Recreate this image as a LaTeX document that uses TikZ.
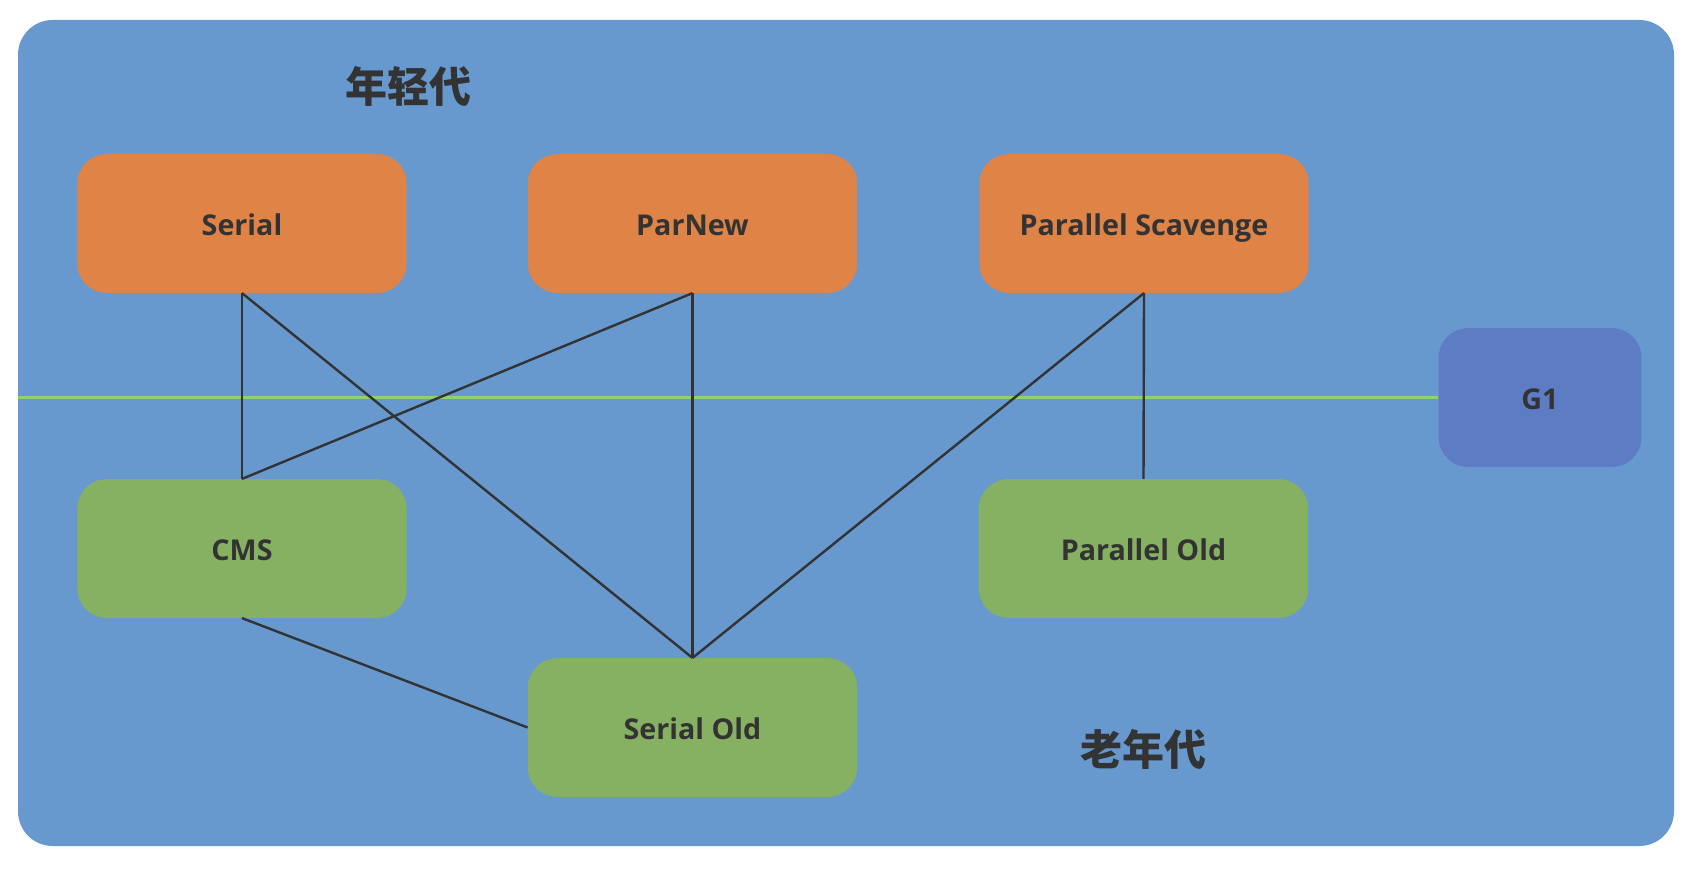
\documentclass[tikz,border=0pt]{standalone}
\usepackage{fontspec}
\setmainfont{Open Sans}
\newfontfamily\cjk{Noto Sans CJK SC}
\definecolor{bgblue}{RGB}{103,153,207}
\definecolor{orng}{RGB}{223,132,70}
\definecolor{grn}{RGB}{135,177,98}
\definecolor{gone}{RGB}{93,124,196}
\definecolor{lgreen}{RGB}{146,208,106}
\definecolor{txt}{RGB}{51,51,51}
\tikzset{
  gcbox/.style={rounded corners=22pt, minimum width=247pt, minimum height=104pt, inner sep=0pt, text height=19pt, text depth=1.4pt, text=txt, font=\fontsize{21.5}{25}\selectfont\bfseries},
  young/.style={gcbox, fill=orng},
  old/.style={gcbox, fill=grn},
  link/.style={draw=txt, line width=1.8pt},
  gen/.style={text=txt, font=\cjk\fontsize{31.5}{36}\selectfont\bfseries}
}
\begin{document}
\begin{tikzpicture}[x=0.75pt,y=-0.75pt]
\useasboundingbox (0,0) rectangle (1694,870);
\node[fill=bgblue, rounded corners=26pt, minimum width=1242pt, minimum height=619.5pt, inner sep=0pt] (bg) at (846,433) {};
\node[gen] (yg) at (408,86) {年轻代};
\node[gen] (og) at (1143,749) {老年代};
\node[young] (serial) at (242,223.5) {Serial};
\node[young] (parnew) at (692.5,223.5) {ParNew};
\node[young] (ps) at (1144,223.5) {Parallel Scavenge};
\node[old] (cms) at (242,548.5) {CMS};
\node[old] (po) at (1143.5,548.5) {Parallel Old};
\node[old] (so) at (692.5,727.5) {Serial Old};
\node[gcbox, fill=gone, minimum width=152pt] (g1) at (1540,397.5) {G1};
\coordinate (gl) at (bg.west |- g1.west);
\draw[draw=lgreen, line width=2pt] (gl) -- (g1.west);
\draw[link] (serial.south) -- (cms.north);
\draw[link] (serial.south) -- (so.north);
\draw[link] (parnew.south) -- (cms.north);
\draw[link] (parnew.south) -- (so.north);
\draw[link] (ps.south) -- (so.north);
\draw[link] (ps.south) -- (po.north);
\draw[link] (cms.south) -- (so.west);
\end{tikzpicture}
\end{document}
